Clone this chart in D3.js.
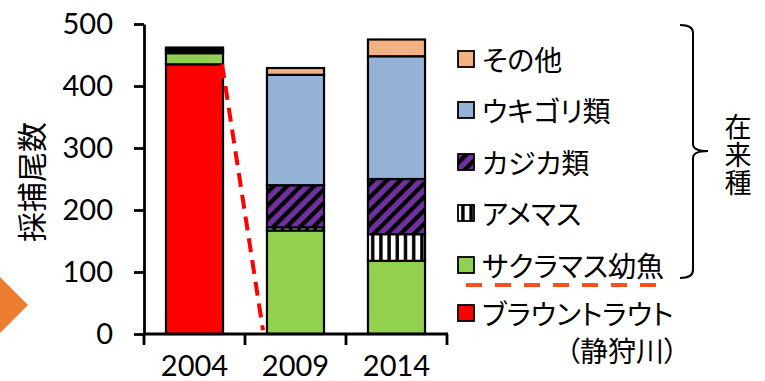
<!DOCTYPE html>
<html>
<head>
<meta charset="utf-8">
<script src="https://cdn.jsdelivr.net/npm/d3@7"></script>
<style>
  html, body { margin: 0; padding: 0; background: #fff; }
  svg { display: block; }
  .jp { font-family: "Noto Sans CJK JP", sans-serif; font-feature-settings: "palt"; }
  .num { font-family: Lato, "Open Sans", sans-serif; }
</style>
</head>
<body>
<svg id="chart" width="765" height="381"></svg>
<script>
// Survey years on the x axis
const years = ["2004", "2009", "2014"];

// Catch counts per group, stacked from the bottom up
const brownTrout = [435, 0, 0];     // ブラウントラウト
const masuFry    = [18, 167, 118];  // サクラマス幼魚
const amemasu    = [0, 5, 43];      // アメマス
const kajika     = [3, 68, 89];     // カジカ類
const ukigori    = [3, 178, 198];   // ウキゴリ類
const others     = [3, 11, 27];     // その他

const yTicks = [0, 100, 200, 300, 400, 500];

const seriesNames = ["ブラウントラウト", "サクラマス幼魚", "アメマス", "カジカ類", "ウキゴリ類", "その他"];
const seriesValues = [brownTrout, masuFry, amemasu, kajika, ukigori, others];
const seriesFills = ["#FF0000", "#92D050", "url(#stripeV)", "url(#hatch)", "#95B3D7", "#F4B183"];

// Dashed drop line: from the top of the 2004 brown-trout bar down to 2009
const dropFrom = { year: "2004", value: 435 };
const dropTo   = { year: "2009", value: 6 };

const svg = d3.select("#chart");

// Fill patterns
const defs = svg.append("defs");
const hatch = defs.append("pattern")
  .attr("id", "hatch").attr("patternUnits", "userSpaceOnUse")
  .attr("width", 9.5).attr("height", 9.5)
  .attr("patternTransform", "rotate(45)");
hatch.append("rect").attr("width", 9.5).attr("height", 9.5).attr("fill", "#7030A0");
hatch.append("rect").attr("width", 4.2).attr("height", 9.5).attr("fill", "#000");

const stripeV = defs.append("pattern")
  .attr("id", "stripeV").attr("patternUnits", "userSpaceOnUse")
  .attr("width", 8.2).attr("height", 8);
stripeV.append("rect").attr("width", 8.2).attr("height", 8).attr("fill", "#fff");
stripeV.append("rect").attr("x", 2).attr("width", 3.4).attr("height", 8).attr("fill", "#000");

// Scales
const x = d3.scaleBand().domain(years).range([144, 447])
  .paddingInner(0.435).paddingOuter(0.2175);
const y = d3.scaleLinear().domain([0, 500]).range([334, 24]);

// Orange arrow head at the left edge
svg.append("path")
  .attr("d", "M0,277 L28,305 L0,333 Z")
  .attr("fill", "#ED7D31");

// Stacked bars
const table = years.map((yr, i) => {
  const row = { year: yr };
  seriesNames.forEach((n, k) => { row[n] = seriesValues[k][i]; });
  return row;
});
const stacked = d3.stack().keys(seriesNames)(table);

stacked.forEach((layer, k) => {
  svg.append("g").selectAll("rect")
    .data(layer.filter(d => d[1] - d[0] > 0))
    .join("rect")
    .attr("x", d => x(d.data.year))
    .attr("y", d => y(d[1]))
    .attr("width", x.bandwidth())
    .attr("height", d => y(d[0]) - y(d[1]))
    .attr("fill", seriesFills[k])
    .attr("stroke", "#000")
    .attr("stroke-width", 2.2);
});

// Red dashed drop line
svg.append("line")
  .attr("x1", x(dropFrom.year) + x.bandwidth() - 1)
  .attr("y1", y(dropFrom.value))
  .attr("x2", x(dropTo.year) - 4)
  .attr("y2", y(dropTo.value))
  .attr("stroke", "#FF0000")
  .attr("stroke-width", 4)
  .attr("stroke-dasharray", "14,8");

// Y axis
const yAxis = svg.append("g")
  .attr("transform", "translate(144,0)")
  .call(d3.axisLeft(y).tickValues(yTicks).tickSize(10).tickPadding(21).tickSizeOuter(0));
yAxis.select(".domain").attr("stroke-width", 2.8).attr("stroke", "#000");
yAxis.selectAll(".tick line").attr("stroke-width", 2.8).attr("stroke", "#000");
yAxis.selectAll("text").attr("class", "num").attr("font-size", 29).attr("fill", "#000");

// X axis: tick marks at category boundaries, labels at category centres
const xAxis = svg.append("g").attr("transform", "translate(0,334)");
xAxis.append("line")
  .attr("x1", x.range()[0] - 1).attr("x2", x.range()[1] + 1)
  .attr("stroke", "#000").attr("stroke-width", 2.8);
const bounds = d3.range(years.length + 1).map(i => x.range()[0] + i * x.step());
xAxis.selectAll(".bt").data(bounds).join("line")
  .attr("x1", d => d).attr("x2", d => d)
  .attr("y1", 0).attr("y2", 11)
  .attr("stroke", "#000").attr("stroke-width", 2.8);
xAxis.selectAll(".xl").data(years).join("text")
  .attr("class", "num")
  .attr("x", d => x(d) + x.bandwidth() / 2)
  .attr("y", 42)
  .attr("text-anchor", "middle")
  .attr("font-size", 29)
  .attr("fill", "#000")
  .text(d => d);

// Y axis title
svg.append("text")
  .attr("class", "jp")
  .attr("transform", "translate(30,182) rotate(-90)")
  .attr("text-anchor", "middle")
  .attr("dominant-baseline", "central")
  .attr("font-size", 30)
  .attr("fill", "#000")
  .text("採捕尾数");

// Legend (top to bottom: reverse stacking order)
const legendRows = [59, 110, 162, 213, 265, 313];
const legendOrder = d3.range(seriesNames.length).reverse();
const legend = svg.append("g");
legendOrder.forEach((k, r) => {
  legend.append("rect")
    .attr("x", 458).attr("y", legendRows[r] - 8)
    .attr("width", 16).attr("height", 16)
    .attr("fill", seriesFills[k])
    .attr("stroke", "#000").attr("stroke-width", 1.8);
  legend.append("text")
    .attr("class", "jp")
    .attr("x", 482).attr("y", legendRows[r])
    .attr("dominant-baseline", "central")
    .attr("font-size", 28)
    .attr("fill", "#000")
    .text(seriesNames[k]);
});

// Divider between native species and the introduced trout
legend.append("line")
  .attr("x1", 466).attr("x2", 657)
  .attr("y1", 285).attr("y2", 285)
  .attr("stroke", "#FF4E1A").attr("stroke-width", 4)
  .attr("stroke-dasharray", "16,13");

// River name
legend.append("text")
  .attr("class", "jp")
  .attr("x", 678).attr("y", 350)
  .attr("text-anchor", "end")
  .attr("dominant-baseline", "central")
  .attr("font-size", 28)
  .attr("fill", "#000")
  .text("（静狩川）");

// Curly brace grouping the native species
svg.append("path")
  .attr("d", "M680,25 Q693,25 693,33 L693,144 Q693,151 708,151 Q693,151 693,158 L693,270 Q693,278 680,278")
  .attr("fill", "none").attr("stroke", "#000").attr("stroke-width", 2);

// Vertical label beside the brace
svg.append("text")
  .attr("class", "jp")
  .attr("x", 738).attr("y", 113)
  .attr("writing-mode", "vertical-rl")
  .attr("style", "text-orientation: upright; font-feature-settings: normal;")
  .attr("letter-spacing", 1)
  .attr("font-size", 27)
  .attr("fill", "#000")
  .text("在来種");
</script>
</body>
</html>
